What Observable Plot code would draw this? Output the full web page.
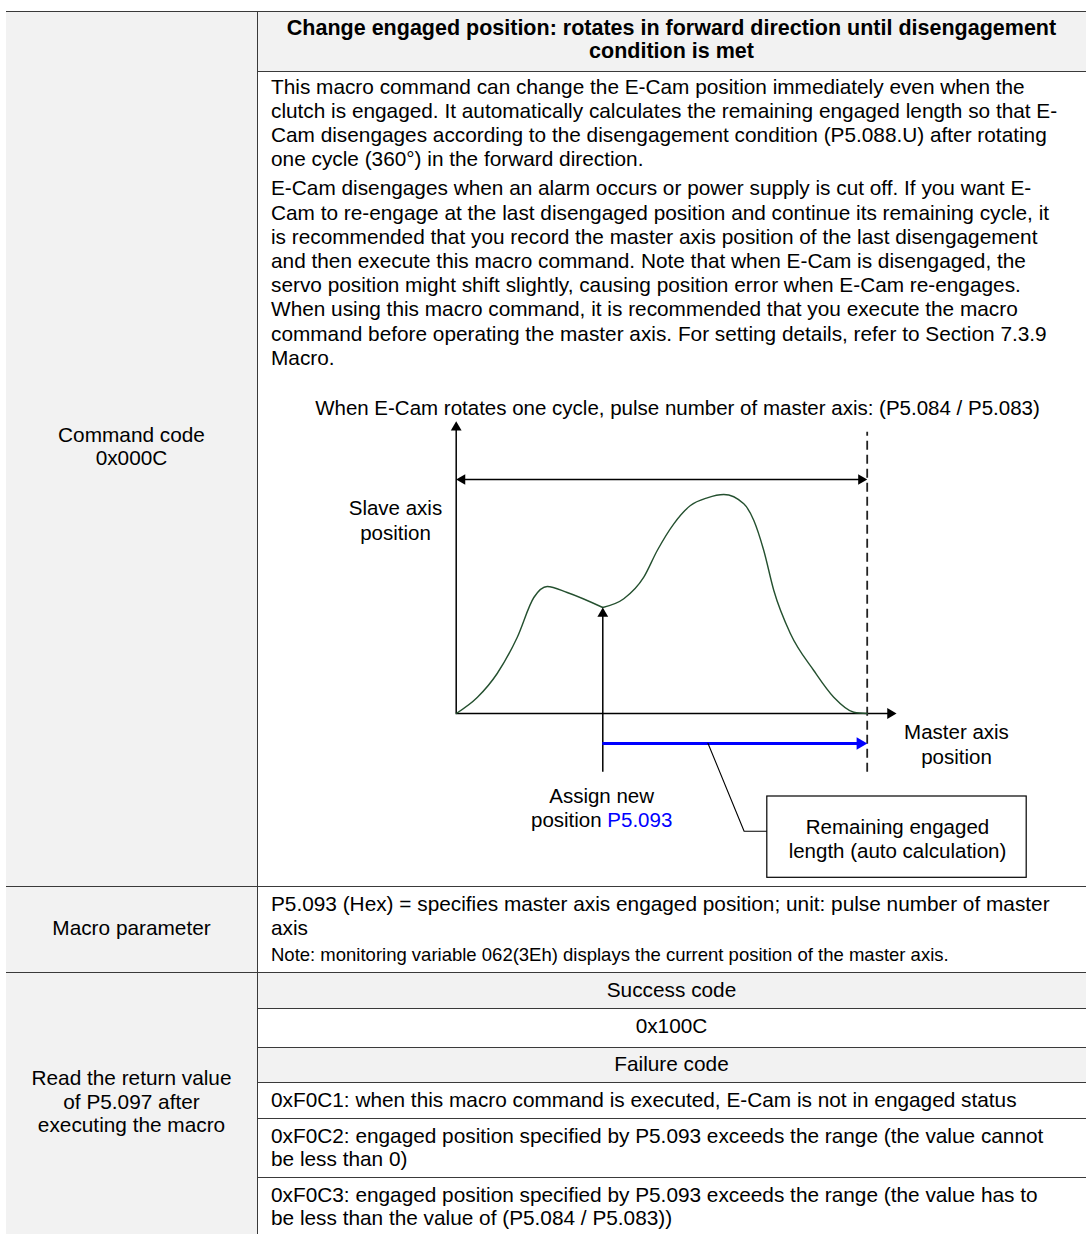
<!DOCTYPE html>
<html><head><meta charset="utf-8">
<script src="https://cdn.jsdelivr.net/npm/d3@7"></script>
<script src="https://cdn.jsdelivr.net/npm/@observablehq/plot@0.6"></script>
<style>
html,body{margin:0;padding:0;background:#fff;}
#page{position:relative;width:1086px;height:1234px;overflow:hidden;font-family:"Liberation Sans",Arial,sans-serif;color:#000;background:#fff;}
.bg{position:absolute;background:#f2f2f2;}
.hl{position:absolute;height:1px;background:#3a3a3a;}
.vl{position:absolute;width:1px;background:#3a3a3a;}
.t{position:absolute;white-space:pre;}
#chart{position:absolute;left:0;top:0;}
</style></head><body><div id="page"></div><script>
// ---------------- data ----------------
const headerLines = [
  "Change engaged position: rotates in forward direction until disengagement",
  "condition is met"
];
const para1 = [
  "This macro command can change the E-Cam position immediately even when the",
  "clutch is engaged. It automatically calculates the remaining engaged length so that E-",
  "Cam disengages according to the disengagement condition (P5.088.U) after rotating",
  "one cycle (360°) in the forward direction."
];
const para2 = [
  "E-Cam disengages when an alarm occurs or power supply is cut off. If you want E-",
  "Cam to re-engage at the last disengaged position and continue its remaining cycle, it",
  "is recommended that you record the master axis position of the last disengagement",
  "and then execute this macro command. Note that when E-Cam is disengaged, the",
  "servo position might shift slightly, causing position error when E-Cam re-engages.",
  "When using this macro command, it is recommended that you execute the macro",
  "command before operating the master axis. For setting details, refer to Section 7.3.9",
  "Macro."
];
const leftLabels = [
  ["Command code", "0x000C"],
  ["Macro parameter"],
  ["Read the return value", "of P5.097 after", "executing the macro"]
];
const macroParamLines = [
  "P5.093 (Hex) = specifies master axis engaged position; unit: pulse number of master",
  "axis"
];
const macroNote = "Note: monitoring variable 062(3Eh) displays the current position of the master axis.";
const returnRows = [
  ["Success code"],
  ["0x100C"],
  ["Failure code"],
  ["0xF0C1: when this macro command is executed, E-Cam is not in engaged status"],
  ["0xF0C2: engaged position specified by P5.093 exceeds the range (the value cannot", "be less than 0)"],
  ["0xF0C3: engaged position specified by P5.093 exceeds the range (the value has to", "be less than the value of (P5.084 / P5.083))"]
];
const returnRowHeader = [true, false, true, false, false, false];

// Diagram data: master axis position (degrees of one cam cycle) vs slave axis position
const camMasterA = [0, 18.4, 35.9, 53.4, 68.0, 79.7, 97.2, 128.4];
const camSlaveA  = [0, 16, 40, 76, 116, 127, 121, 106];
const camMasterB = [128.4, 146.8, 164.3, 176.1, 190.6, 205.2, 219.9, 234.4, 251.9, 260.7, 269.4, 278.2, 292.8, 313.2, 330.7, 348.3, 360];
const camSlaveB  = [106, 114.7, 136.3, 163, 189.7, 208, 215.7, 219, 209.7, 193, 163, 123, 79.7, 43, 16.3, 1.3, 0];
const cycleEnd = 360;          // one cam cycle (P5.084 / P5.083)
const assignPos = 128.4;       // new engaged position P5.093
const assignSlave = 106;
const diagramTitle = "When E-Cam rotates one cycle, pulse number of master axis: (P5.084 / P5.083)";
const slaveLabel = "Slave axis\nposition";
const masterLabel = "Master axis\nposition";
const assignLabel1 = "Assign new";
const assignLabel2a = "position";
const assignLabel2b = "P5.093";
const remainLabel = "Remaining engaged\nlength (auto calculation)";

// ---------------- table (HTML) ----------------
const page = document.getElementById("page");
const L0 = 6, C1 = 257, R0 = 1086, T0 = 10.7;
const rowY = {hdrEnd: 70.7, bodyEnd: 885.7, macroEnd: 972.3};
const subY = [972.3, 1008.3, 1046.7, 1082.3, 1118.3, 1177.3, 1240];
function el(cls, l, t, w, h) {
  const d = document.createElement("div");
  d.className = cls;
  Object.assign(d.style, {left: l + "px", top: t + "px", width: w + "px", height: h + "px"});
  page.appendChild(d);
  return d;
}
function txt(s, x, cy, o = {}) {
  const size = o.size || 20.8, lh = size * 1.2;
  const d = document.createElement("div");
  d.className = "t";
  d.textContent = s;
  const st = {fontSize: size + "px", lineHeight: lh + "px", top: (cy - lh / 2 - 1) + "px"};
  if (o.bold) st.fontWeight = "bold";
  if (o.center) { st.left = (x - 600) + "px"; st.width = "1200px"; st.textAlign = "center"; }
  else st.left = x + "px";
  Object.assign(d.style, st);
  page.appendChild(d);
}
// backgrounds
el("bg", L0, T0, C1 - L0, 1240 - T0);
el("bg", C1, T0, R0 - C1, rowY.hdrEnd - T0);
returnRowHeader.forEach((h, i) => { if (h) el("bg", C1, subY[i], R0 - C1, subY[i + 1] - subY[i]); });
// lines
el("hl", L0, T0, R0 - L0, 1);
el("hl", C1, rowY.hdrEnd, R0 - C1, 1);
el("hl", L0, rowY.bodyEnd, R0 - L0, 1);
el("hl", L0, rowY.macroEnd, R0 - L0, 1);
subY.slice(1, 6).forEach(y => el("hl", C1, y, R0 - C1, 1));
el("vl", C1, T0, 1, 1240 - T0);
// header
const midR = (C1 + R0) / 2;
headerLines.forEach((s, i) => txt(s, midR, 29.5 + i * 23.5, {center: true, bold: true, size: 21.5}));
// body paragraphs
const TX = 271, LS = 24.2;
para1.forEach((s, i) => txt(s, TX, 88 + i * LS));
para2.forEach((s, i) => txt(s, TX, 88 + 4 * LS + 5 + i * LS));
// left labels
const midL = (L0 + C1) / 2;
const leftCenters = [(T0 + rowY.bodyEnd) / 2, (rowY.bodyEnd + rowY.macroEnd) / 2, (rowY.macroEnd + 1234) / 2];
leftLabels.forEach((lines, k) => lines.forEach((s, i) =>
  txt(s, midL, leftCenters[k] + (i - (lines.length - 1) / 2) * 23.5, {center: true})));
// macro parameter
macroParamLines.forEach((s, i) => txt(s, TX, 905.5 + i * 23.5));
txt(macroNote, TX, 956.5, {size: 18.5});
// return rows
returnRows.forEach((lines, k) => lines.forEach((s, i) => {
  const cy = subY[k] + 19 + i * 23;
  if (returnRowHeader[k] || k === 1) txt(s, midR, cy, {center: true});
  else txt(s, TX, cy);
}));

// ---------------- diagram (Observable Plot) ----------------
const cam = [
  ...camMasterA.map((m, i) => ({m, s: camSlaveA[i], seg: "a"})),
  ...camMasterB.map((m, i) => ({m, s: camSlaveB[i], seg: "b"}))
];
const yTop = 292.3, xTip = 385.7, topArrowY = 234, dashTop = 281.3, dashBottom = -58.7, blueY = -30;
const leader = [{m: 220.5, s: -29.7}, {m: 252.2, s: -117.7}, {m: 272.5, s: -117.7}];
const fs = 20.5;
const chart = Plot.plot({
  width: 1086, height: 1234, margin: 0,
  axis: null,
  x: {type: "linear", domain: [0, 360], range: [455.7, 866.7]},
  y: {type: "linear", domain: [0, 300], range: [713, 413]},
  style: {background: "transparent", fontFamily: "Liberation Sans, Arial, sans-serif", overflow: "visible"},
  marks: [
    // axes
    Plot.ruleX([0], {y1: 0, y2: yTop - 3, stroke: "#000", strokeWidth: 1.5}),
    Plot.ruleY([0], {x1: 0, x2: xTip - 3, stroke: "#000", strokeWidth: 1.5}),
    Plot.dot([{m: 0, s: yTop}], {x: "m", y: "s", symbol: "triangle", r: 4, rotate: 0, dy: 6.2, fill: "#000", stroke: null}),
    Plot.dot([{m: xTip, s: 0}], {x: "m", y: "s", symbol: "triangle", r: 4, rotate: 90, dx: -6.2, fill: "#000", stroke: null}),
    // one cycle double arrow
    Plot.ruleY([topArrowY], {x1: 3, x2: cycleEnd - 3, stroke: "#000", strokeWidth: 1.5}),
    Plot.dot([{m: 0, s: topArrowY}], {x: "m", y: "s", symbol: "triangle", r: 3.9, rotate: -90, dx: 6, fill: "#000", stroke: null}),
    Plot.dot([{m: cycleEnd, s: topArrowY}], {x: "m", y: "s", symbol: "triangle", r: 3.9, rotate: 90, dx: -6, fill: "#000", stroke: null}),
    // dashed end of cycle
    Plot.ruleX([cycleEnd], {y1: dashBottom, y2: dashTop, stroke: "#222", strokeWidth: 1.8, strokeDasharray: "9,5"}),
    // cam curve
    Plot.line(cam, {x: "m", y: "s", z: "seg", curve: "monotone-x", stroke: "#24502f", strokeWidth: 1.4}),
    // assign new position arrow
    Plot.ruleX([assignPos], {y1: dashBottom, y2: assignSlave - 5, stroke: "#000", strokeWidth: 1.5}),
    Plot.dot([{m: assignPos, s: assignSlave}], {x: "m", y: "s", symbol: "triangle", r: 4, rotate: 0, dy: 6.2, fill: "#000", stroke: null}),
    // remaining length (blue)
    Plot.ruleY([blueY], {x1: assignPos, x2: cycleEnd - 4, stroke: "#0000ff", strokeWidth: 3}),
    Plot.dot([{m: cycleEnd, s: blueY}], {x: "m", y: "s", symbol: "triangle", r: 4.6, rotate: 90, dx: -7, fill: "#0000ff", stroke: null}),
    // leader + box
    Plot.line(leader, {x: "m", y: "s", stroke: "#000", strokeWidth: 1.1}),
    Plot.rect([{x1: 272.5, x2: 499.7, y1: -83, y2: -164.3}], {x1: "x1", x2: "x2", y1: "y1", y2: "y2", fill: "#fff", stroke: "#000", strokeWidth: 1.2}),
    // labels
    Plot.text([diagramTitle], {x: 193.8, y: 305, text: d => d, fontSize: fs, fill: "#000"}),
    Plot.text([slaveLabel], {x: -53.2, y: 194, text: d => d, fontSize: fs, lineHeight: 1.24, fill: "#000"}),
    Plot.text([masterLabel], {x: 438.2, y: -30, text: d => d, fontSize: fs, lineHeight: 1.2, fill: "#000"}),
    Plot.text([assignLabel1], {x: assignPos - 1, y: -83, text: d => d, fontSize: fs, fill: "#000"}),
    Plot.text([assignLabel2a], {x: assignPos - 1, y: -107, text: d => d, fontSize: fs, textAnchor: "end", fill: "#000"}),
    Plot.text([assignLabel2b], {x: assignPos - 1, y: -107, dx: 5.7, text: d => d, fontSize: fs, textAnchor: "start", fill: "#0000ff"}),
    Plot.text([remainLabel], {x: 386.5, y: -125, text: d => d, fontSize: fs, lineHeight: 1.17, fill: "#000"})
  ]
});
chart.id = "chart";
page.appendChild(chart);
</script></body></html>
